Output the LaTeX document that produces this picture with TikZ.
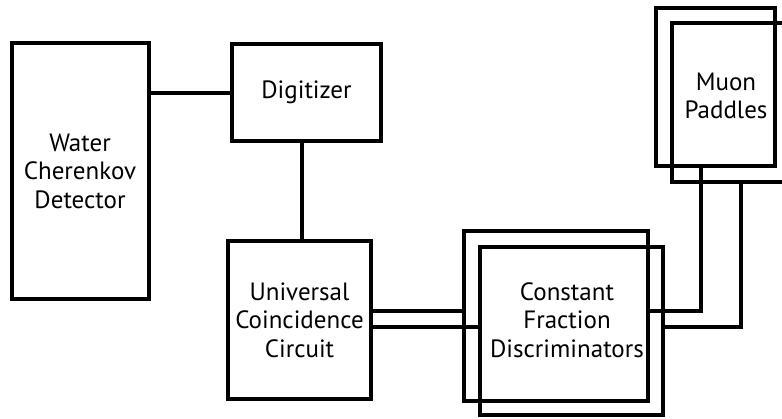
\documentclass[tikz,border=0pt]{standalone}
\usepackage{fontspec}
\setmainfont{PT Sans}
\begin{document}
\begin{tikzpicture}
            [
                x = 1pt, y = -1pt,
                line width = 4pt,
                every node/.style = {font=\fontsize{25}{28.5}\selectfont, align=center},
                box/.style = {shape=rectangle, draw, inner sep=0pt}
            ]
            \useasboundingbox (0,0) rectangle (782,418);
            \clip (0,0) rectangle (782,418);
            \node [box, minimum width=137pt, minimum height=256pt] (wcd) at (80,171)
                {Water \\ Cherenkov \\ Detector};
            \node [box, minimum width=149pt, minimum height=97pt] (dig) at (306.5,92.5) {Digitizer};
            \node [box, minimum width=143pt, minimum height=158pt] (ucc) at (299.5,320)
                {Universal \\ Coincidence \\ Circuit};
            % discriminators, two overlapping frames
            \node [box, minimum width=184pt, minimum height=170pt] (cfdb) at (556,316) {};
            \node [box, minimum width=183pt, minimum height=168pt] (cfdf) at (571.5,331) {};
            \node (cfdtxt) at (567,320) {Constant \\ Fraction \\ Discriminators};
            % muon paddles, two overlapping frames
            \node [box, minimum width=119pt, minimum height=158pt] (mpb) at (715.5,87) {};
            \node [box, minimum width=119pt, minimum height=159pt] (mpf) at (731.5,102.5) {};
            \node (mptxt) at (726,96) {Muon \\ Paddles};
            \draw (dig.west) -- (dig.west -| wcd.east);
            \draw ([xshift=2.5pt]ucc.north) -- ([xshift=2.5pt]ucc.north |- dig.south);
            \draw ([yshift=9pt]ucc.east) -- ([yshift=9pt]ucc.east -| cfdb.west);
            \draw ([yshift=-7pt]ucc.east) -- ([yshift=-7pt]ucc.east -| cfdf.west);
            \draw ([yshift=9pt]ucc.east -| cfdb.east) -| ([xshift=-14.5pt]mpb.south);
            \draw ([yshift=-7pt]ucc.east -| cfdf.east) -| ([xshift=9.5pt]mpf.south);
        \end{tikzpicture}
\end{document}
